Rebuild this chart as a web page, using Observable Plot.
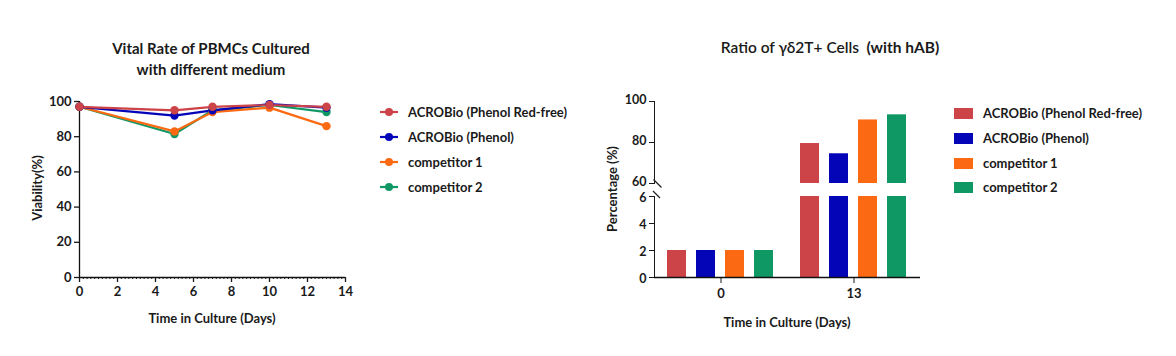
<!DOCTYPE html>
<html><head><meta charset="utf-8">
<script src="https://cdn.jsdelivr.net/npm/d3@7"></script>
<script src="https://cdn.jsdelivr.net/npm/@observablehq/plot@0.6"></script>
<style>
body{margin:0;background:#fff;font-family:Lato,"Open Sans",sans-serif;color:#1a1a1a}
#root{position:relative;width:1176px;height:356px;overflow:hidden;background:#fff}
.title{font-weight:700;font-size:15px;text-align:center;line-height:21px;white-space:nowrap}
.item{position:absolute;display:flex;align-items:center;white-space:nowrap;font-size:13px;font-weight:700;height:20px}
.lab{font-size:13px;font-weight:700;white-space:nowrap;transform:translate(-50%,-50%)}
.lab.v{transform:translate(-50%,-50%) rotate(-90deg)}
svg.plot{position:absolute;overflow:visible}
</style></head><body><div id="root"></div>
<script>
// ---- data ----
const series = ["ACROBio (Phenol Red-free)", "ACROBio (Phenol)", "competitor 1", "competitor 2"];
const colors = ["#cc4348", "#0505b8", "#fb6912", "#0f9864"];
const days = [0, 5, 7, 10, 13];
const viabRedFree = [97, 95, 97, 98, 97];
const viabPhenol  = [97, 92, 95, 98.5, 96.5];
const viabComp1   = [97, 83, 94, 96.5, 86];
const viabComp2   = [97, 81.5, 95, 98, 94];
const viabTicks = [0, 20, 40, 60, 80, 100];
const dayTicks = [0, 2, 4, 6, 8, 10, 12, 14];

const barDays = ["0", "13"];
const gdRedFree = [2, 79.5];
const gdPhenol  = [2, 74.5];
const gdComp1   = [2, 91];
const gdComp2   = [2, 93.5];
const lowTicks = [0, 2, 4, 6];
const highTicks = [60, 80, 100];

(function () {
const viab = [viabRedFree, viabPhenol, viabComp1, viabComp2];
const gd = [gdRedFree, gdPhenol, gdComp1, gdComp2];

const root = document.getElementById("root");
function place(el, l, t) { el.style.position = "absolute"; el.style.left = l + "px"; el.style.top = t + "px"; root.appendChild(el); return el; }
function label(text, x, y, vertical) { const d = document.createElement("div"); d.className = "lab" + (vertical ? " v" : ""); d.textContent = text; return place(d, x, y); }
const font = {fontFamily: "Lato, 'Open Sans', sans-serif", fontSize: "13px", fontWeight: 700, color: "#1a1a1a", background: "transparent", overflow: "visible"};

// diagonal "axis break" symbol
const breakSymbol = {draw(ctx, size) { const r = Math.sqrt(size) / 2; ctx.moveTo(-r, -r); ctx.lineTo(r, r); }};

// ---- left line chart ----
const lineData = [];
[3, 2, 1, 0].forEach(i => days.forEach((d, j) => lineData.push({series: series[i], day: d, value: viab[i][j]})));
const minor = d3.range(0, 70).map(k => k / 5);

const leftChart = Plot.plot({
  width: 360, height: 340, marginLeft: 79, marginRight: 15, marginTop: 101, marginBottom: 63,
  style: font,
  x: {domain: [0, 14]},
  y: {domain: [0, 100]},
  color: {domain: series, range: colors},
  marks: [
    Plot.axisX(minor, {tickSize: 2, tickFormat: () => "", label: null, strokeWidth: 1}),
    Plot.axisX(dayTicks, {tickSize: 5, tickPadding: 4, label: null, strokeWidth: 1.3}),
    Plot.axisY(viabTicks, {tickSize: 5, tickPadding: 3, label: null, strokeWidth: 1.3}),
    Plot.ruleY([0], {stroke: "#111", strokeWidth: 1.3}),
    Plot.ruleX([0], {stroke: "#111", strokeWidth: 1.3}),
    Plot.line(lineData, {x: "day", y: "value", z: "series", stroke: "series", strokeWidth: 2.2}),
    Plot.dot(lineData, {x: "day", y: "value", fill: "series", r: 4.2})
  ]
});
leftChart.classList.add("plot");
place(leftChart, 0, 0);

// ---- right bar chart (broken axis) ----
const barData = [];
series.forEach((s, i) => barDays.forEach((d, j) => barData.push({series: s, day: d, value: gd[i][j]})));

const common = {
  width: 340, marginLeft: 63, marginRight: 10,
  style: font,
  x: {domain: series, paddingInner: 0.34, paddingOuter: 0.42, axis: null},
  color: {domain: series, range: colors}
};
const tickLabels = (ticks, dy) => Plot.text(ticks, {fx: () => "0", y: d => d, text: d => String(d), frameAnchor: "left", textAnchor: "end", dx: -8, dy, fontSize: 12.5});

const topChart = Plot.plot({
  ...common, height: 190, marginTop: 101, marginBottom: 7,
  fx: {domain: barDays, padding: 0, axis: null},
  y: {domain: [60, 100], ticks: highTicks, tickSize: 5, tickFormat: () => "", line: true, label: null},
  marks: [
    tickLabels(highTicks, -1.5),
    Plot.barY(barData.filter(d => d.value > 60), {fx: "day", x: "series", y1: 60, y2: "value", fill: "series"}),
    Plot.dot([0], {fx: () => "0", frameAnchor: "bottom-left", symbol: breakSymbol, r: 4.5, stroke: "#222", strokeWidth: 1.2, dx: 3, dy: 0})
  ]
});
topChart.classList.add("plot");
place(topChart, 590, 0);

const bottomChart = Plot.plot({
  ...common, height: 150, marginTop: 6, marginBottom: 63,
  fx: {domain: barDays, padding: 0, axis: "bottom", tickSize: 6, tickPadding: 5, label: null},
  y: {domain: [0, 6], ticks: lowTicks, tickSize: 5, tickFormat: () => "", line: true, label: null},
  marks: [
    tickLabels(lowTicks, 1.5),
    Plot.barY(barData, {fx: "day", x: "series", y1: 0, y2: d => Math.min(d.value, 6), fill: "series"}),
    Plot.ruleY([0], {stroke: "#111", strokeWidth: 1.3}),
    Plot.dot([0], {fx: () => "0", frameAnchor: "top-left", symbol: breakSymbol, r: 4, stroke: "#222", strokeWidth: 1.2, dx: 2, dy: -2})
  ]
});
bottomChart.classList.add("plot");
place(bottomChart, 590, 190);

// ---- titles & labels ----
const t1 = document.createElement("div");
t1.className = "title";
t1.innerHTML = "Vital Rate of PBMCs Cultured<br>with different medium";
t1.style.width = "300px";
place(t1, 61, 38);

const t2 = document.createElement("div");
t2.className = "title";
t2.style.fontSize = "15.5px";
t2.innerHTML = "<span style='font-weight:600'>Ratio of γδ2T+ Cells</span>&nbsp; (with hAB)";
t2.style.width = "300px";
place(t2, 680, 37);

label("Viability(%)", 37, 188, true);
label("Time in Culture (Days)", 212, 318);
label("Percentage (%)", 612, 189, true);
label("Time in Culture (Days)", 787, 322);

// ---- legends ----
series.forEach((s, i) => {
  const it = document.createElement("div");
  it.className = "item";
  it.innerHTML = `<svg width="28" height="12"><line x1="0" x2="18" y1="6" y2="6" stroke="${colors[i]}" stroke-width="2.2"/><circle cx="9" cy="6" r="4" fill="${colors[i]}"/></svg><span>${s}</span>`;
  place(it, 380, [102, 127, 152, 177][i]);
  const it2 = document.createElement("div");
  it2.className = "item";
  it2.innerHTML = `<div style="width:19px;height:11px;background:${colors[i]};margin-right:10px"></div><span>${s}</span>`;
  place(it2, 954, [103, 128, 153, 177][i]);
});
})();
</script></body></html>
